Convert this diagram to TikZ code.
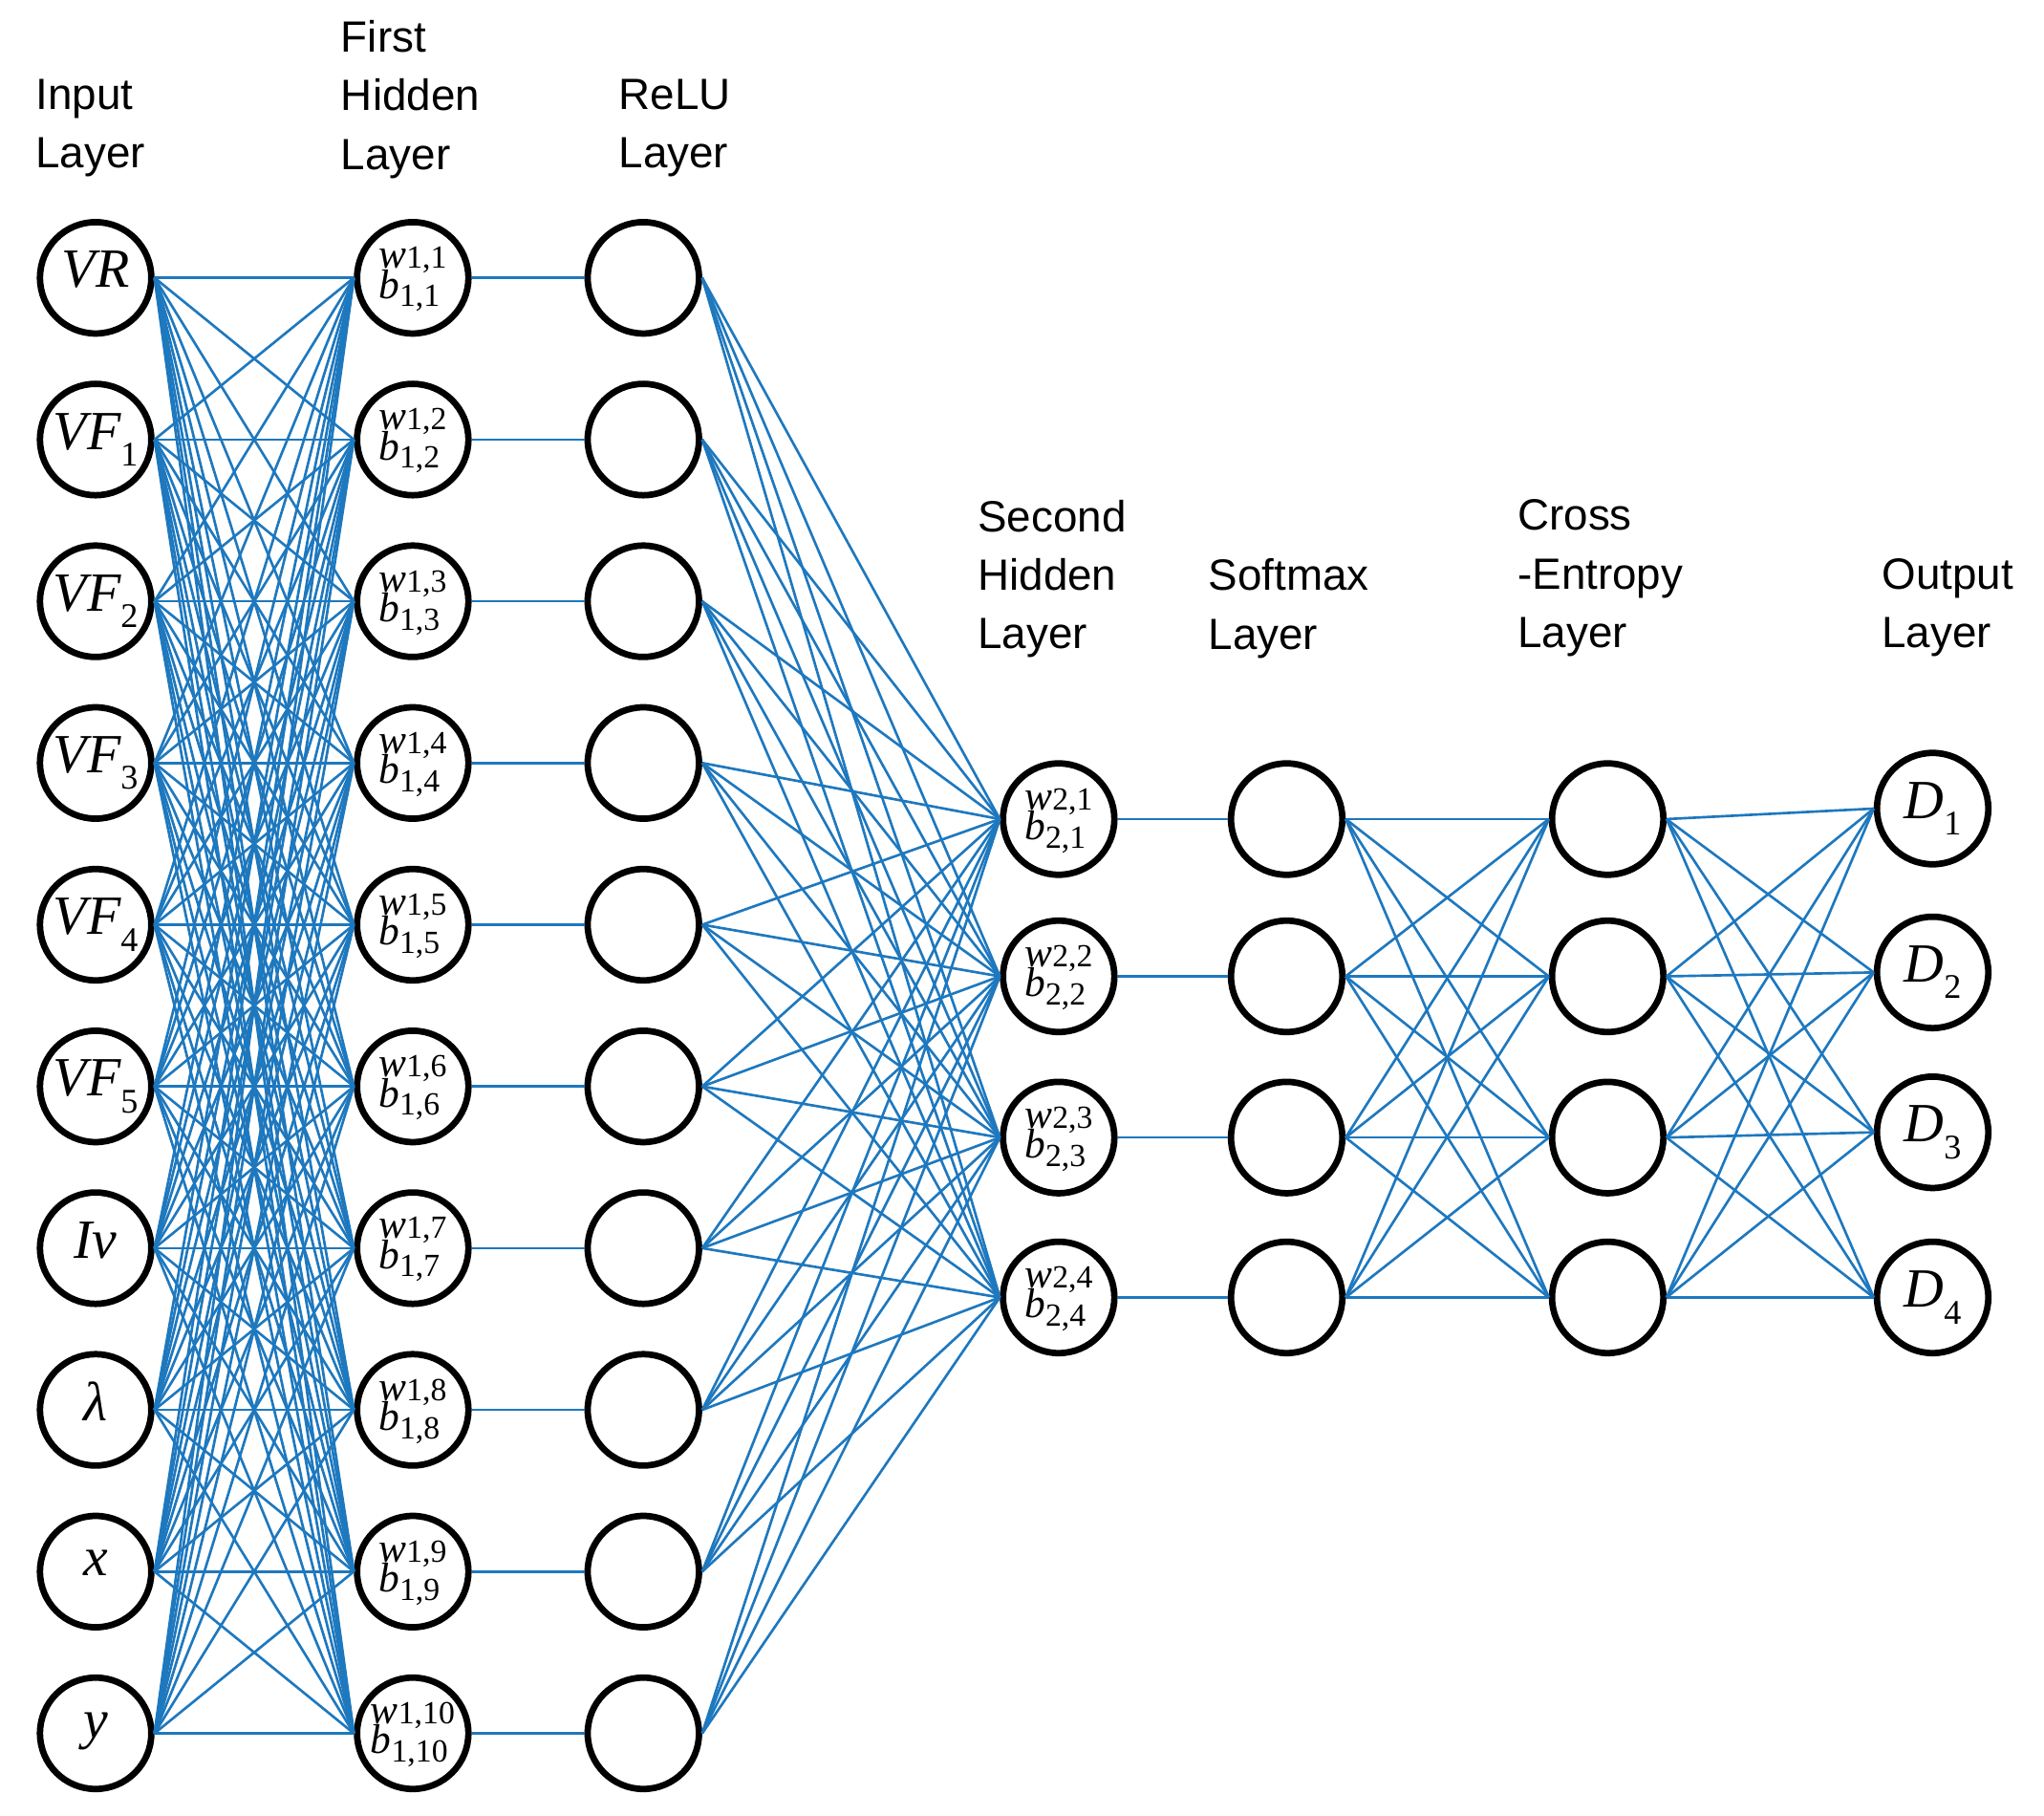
\documentclass[tikz,border=0pt]{standalone}
\usepackage{fontspec}
\setmainfont{Liberation Sans}
\newfontfamily\ser{Liberation Serif}
\newcommand{\sv}[2]{{\ser\itshape #1}\raisebox{-0.3em}{\ser\fontsize{15}{15}\selectfont #2}}
\newcommand{\hb}[2]{\begin{tabular}{@{}l@{}}{\ser\itshape w}{\ser\fontsize{14}{14}\selectfont #1,#2}\\[-4pt]{\ser\itshape b}\raisebox{-0.2em}{\ser\fontsize{14}{14}\selectfont #1,#2}\end{tabular}}
\begin{document}
\begin{tikzpicture}[x=0.02cm,y=-0.02cm,
  neuron/.style={circle,draw=black,line width=2.8pt,minimum size=1.7cm,inner sep=0pt,font=\fontsize{24}{24}\selectfont},
  hid/.style={neuron,font=\fontsize{18}{15}\selectfont},
  conn/.style={draw={rgb,255:red,30;green,120;blue,190},line width=1.1pt},
  lab/.style={anchor=north west,align=left,inner sep=0pt,font=\fontsize{19}{25.5}\selectfont}]
\useasboundingbox (0,0) rectangle (1560,1385);
% labels
\node[lab] (l1) at (27,60) {Input\\Layer};
\node[lab] (l2) at (260,15) {First\\Hidden\\Layer};
\node[lab] (l3) at (472,60) {ReLU\\Layer};
\node[lab] (l4) at (746,381) {Second\\Hidden\\Layer};
\node[lab] (l5) at (922,426) {Softmax\\Layer};
\node[lab] (l6) at (1158,381) {Cross\\-Entropy\\Layer};
\node[lab] (l7) at (1436,426) {Output\\Layer};
% input
\foreach \t/\s [count=\i] in {VR/,VF/1,VF/2,VF/3,VF/4,VF/5,Iv/,λ/,x/,y/}{
  \node[neuron] (in\i) at (73,{212+(\i-1)*123.4}) {\sv{\t}{\s}};
  \node[hid] (h\i) at (315,{212+(\i-1)*123.4}) {\hb{1}{\i}};
  \node[neuron] (r\i) at (491,{212+(\i-1)*123.4}) {};
}
\foreach \i/\y in {1/625,2/745,3/868,4/990}{
  \node[hid] (s\i) at (808,\y) {\hb{2}{\i}};
  \node[neuron] (sm\i) at (982,\y) {};
  \node[neuron] (ce\i) at (1227,\y) {};
}
\node[neuron] (o1) at (1475,617) {\sv{D}{1}};
\node[neuron] (o2) at (1475,742) {\sv{D}{2}};
\node[neuron] (o3) at (1475,864) {\sv{D}{3}};
\node[neuron] (o4) at (1475,990) {\sv{D}{4}};
% connections
\foreach \i in {1,...,10}{
  \foreach \j in {1,...,10}{\draw[conn] (in\i.east) -- (h\j.west);}
  \draw[conn] (h\i.east) -- (r\i.west);
  \foreach \j in {1,...,4}{\draw[conn] (r\i.east) -- (s\j.west);}
}
\foreach \i in {1,...,4}{
  \draw[conn] (s\i.east) -- (sm\i.west);
  \foreach \j in {1,...,4}{
    \draw[conn] (sm\i.east) -- (ce\j.west);
    \draw[conn] (ce\i.east) -- (o\j.west);
  }
}
\end{tikzpicture}
\end{document}
